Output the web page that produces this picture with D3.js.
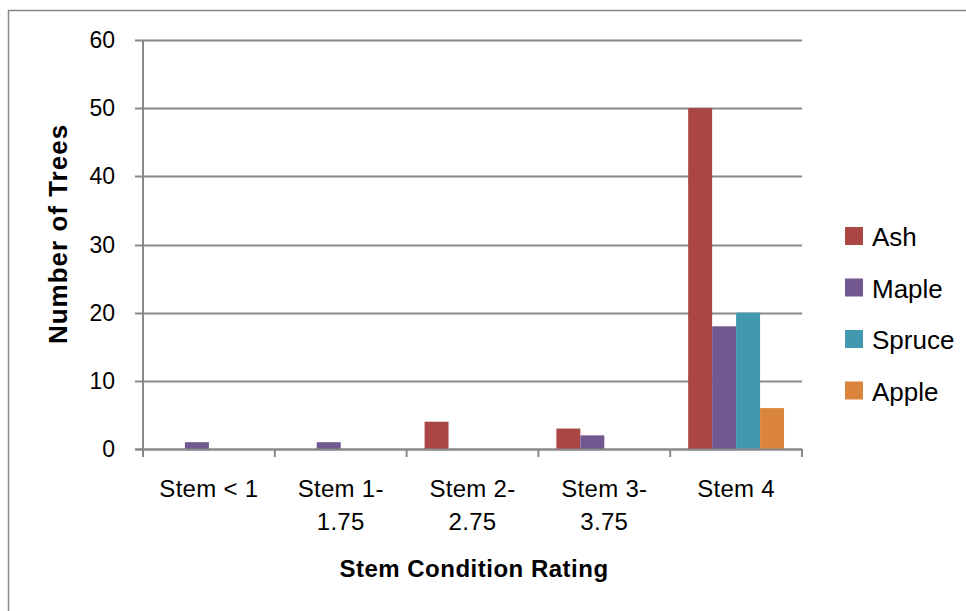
<!DOCTYPE html>
<html><head><meta charset="utf-8">
<script src="https://cdn.jsdelivr.net/npm/d3@7"></script>
<style>body{margin:0;background:#fff;} text{font-family:"Liberation Sans",Arial,sans-serif;fill:#000;}</style>
</head><body><svg id="c" width="966" height="611"></svg>
<script>
const categories = [["Stem < 1"],["Stem 1-","1.75"],["Stem 2-","2.75"],["Stem 3-","3.75"],["Stem 4"]];
const seriesNames = ["Ash","Maple","Spruce","Apple"];
const ash    = [0,0,4,3,50];
const maple  = [1,1,0,2,18];
const spruce = [0,0,0,0,20];
const apple  = [0,0,0,0,6];
const yTicks = [0,10,20,30,40,50,60];
const colors = ["#AA4643","#71588F","#4198AF","#DB843D"];
const seriesValues = [ash,maple,spruce,apple];

const svg = d3.select("#c");
const L=143,R=802,T=40,B=449;
svg.append("rect").attr("x",8.5).attr("y",10.5).attr("width",980).attr("height",620)
  .attr("fill","none").attr("stroke","#888").attr("stroke-width",1.5);

const x = d3.scaleBand().domain(d3.range(categories.length)).range([L,R]).paddingInner(0).paddingOuter(0);
const y = d3.scaleLinear().domain([0,60]).range([B,T]);
const groupW = x.bandwidth();
const barW = groupW/(4+1.5);

svg.append("g").selectAll("line").data(yTicks).join("line")
  .attr("x1",L-8).attr("x2",R).attr("y1",d=>Math.round(y(d))+0.5).attr("y2",d=>Math.round(y(d))+0.5)
  .attr("stroke","#888").attr("stroke-width",2);
svg.append("line").attr("x1",L).attr("x2",L).attr("y1",T).attr("y2",B).attr("stroke","#888").attr("stroke-width",2);
svg.append("g").selectAll("line").data(d3.range(categories.length+1)).join("line")
  .attr("x1",d=>L+d*groupW).attr("x2",d=>L+d*groupW).attr("y1",B).attr("y2",B+8)
  .attr("stroke","#888").attr("stroke-width",2);

const g = svg.append("g");
seriesValues.forEach((vals,si)=>{
  g.selectAll(null).data(vals).join("rect")
    .attr("x",(d,i)=>x(i)+barW*0.75+si*barW)
    .attr("width",barW)
    .attr("y",d=>y(d)).attr("height",d=>B-y(d))
    .attr("fill",colors[si]);
});
svg.append("line").attr("x1",L-8).attr("x2",R).attr("y1",B+0.5).attr("y2",B+0.5).attr("stroke","#888").attr("stroke-width",2);

svg.append("g").selectAll("text").data(yTicks).join("text")
  .attr("x",115).attr("y",d=>y(d)+8).attr("text-anchor","end").style("font-size","23px").text(d=>d);
categories.forEach((c,i)=>{
  c.forEach((line,j)=>{
    svg.append("text").attr("x",x(i)+groupW/2).attr("y",497+j*33).attr("text-anchor","middle")
      .style("font-size","24px").style("letter-spacing","0.3px").text(line);
  });
});
svg.append("text").attr("x",474).attr("y",577).attr("text-anchor","middle")
  .style("font-size","24px").style("font-weight","bold").style("letter-spacing","0.5px").text("Stem Condition Rating");
svg.append("text").attr("transform","translate(67,234) rotate(-90)").attr("text-anchor","middle")
  .style("font-size","26px").style("font-weight","bold").style("letter-spacing","1px").text("Number of Trees");

seriesNames.forEach((n,i)=>{
  const yy = 236 + i*51.5;
  svg.append("rect").attr("x",845).attr("y",yy-9).attr("width",18).attr("height",18).attr("fill",colors[i]);
  svg.append("text").attr("x",872).attr("y",yy+10).style("font-size","26px").text(n);
});
</script></body></html>
